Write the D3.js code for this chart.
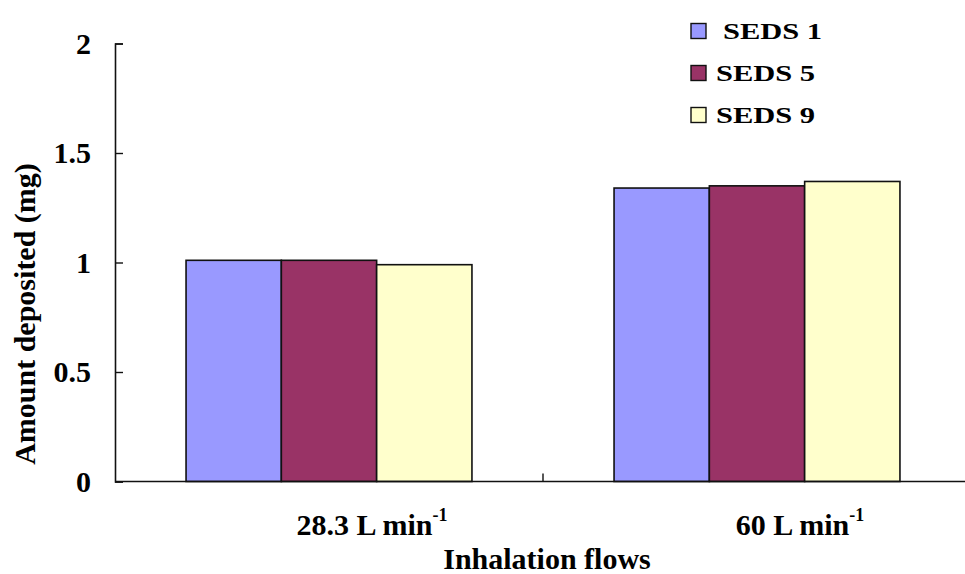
<!DOCTYPE html>
<html>
<head>
<meta charset="utf-8">
<script src="https://cdn.jsdelivr.net/npm/d3@7"></script>
<style>
  html, body { margin: 0; padding: 0; background: #fff; }
  svg { display: block; }
</style>
</head>
<body>
<svg id="chart" width="965" height="574"></svg>
<script>
// Inhalation flow groups and the three SEDS formulations
const flows = ["28.3", "60"];
const seriesNames = ["SEDS 1", "SEDS 5", "SEDS 9"];
const seriesColors = ["#9999FF", "#993366", "#FFFFCC"];
// Amount deposited (mg), one array per series, ordered like `flows`
const seds1 = [1.01, 1.34];
const seds5 = [1.01, 1.35];
const seds9 = [0.99, 1.37];
const yTicks = [0, 0.5, 1, 1.5, 2];

const seriesValues = [seds1, seds5, seds9];
const FONT = "'Liberation Serif', Tinos, 'Times New Roman', Times, 'Nimbus Roman', 'Nimbus Roman No9 L', FreeSerif, 'DejaVu Serif', 'Noto Serif', serif";

(function draw() {
  const svg = d3.select("#chart");
  const plotLeft = 115, plotRight = 971, plotTop = 43.5, plotBottom = 481.5;

  const x = d3.scaleBand()
    .domain(flows)
    .range([plotLeft, plotRight])
    .paddingInner(0.332)
    .paddingOuter(0.166);

  const xs = d3.scaleBand()
    .domain(seriesNames)
    .range([0, x.bandwidth()]);

  const y = d3.scaleLinear().domain([0, 2]).range([plotBottom, plotTop]);

  // Bars
  const groups = svg.append("g").selectAll("g")
    .data(flows)
    .join("g")
    .attr("transform", d => `translate(${x(d)},0)`);

  groups.selectAll("rect")
    .data((f, i) => seriesNames.map((s, k) => ({ s, k, v: seriesValues[k][i] })))
    .join("rect")
    .attr("x", d => xs(d.s))
    .attr("width", xs.bandwidth())
    .attr("y", d => y(d.v))
    .attr("height", d => y(0) - y(d.v))
    .attr("fill", d => seriesColors[d.k])
    .attr("stroke", "#111")
    .attr("stroke-width", 1.6);

  // Y axis with inward ticks
  const yAxis = svg.append("g")
    .attr("transform", `translate(${plotLeft},0)`)
    .call(d3.axisLeft(y).tickValues(yTicks).tickFormat(d3.format("")).tickSize(-8).tickPadding(24));
  yAxis.style("font-family", FONT).style("font-size", "30px").style("font-weight", "bold");
  yAxis.select(".domain").attr("stroke", "#111").attr("stroke-width", 1.6);
  yAxis.selectAll(".tick line").attr("stroke", "#111").attr("stroke-width", 1.4);
  yAxis.selectAll(".tick text").attr("fill", "#000");

  // X axis line with inward ticks at category boundaries
  svg.append("line")
    .attr("x1", plotLeft).attr("x2", plotRight)
    .attr("y1", y(0)).attr("y2", y(0))
    .attr("stroke", "#111").attr("stroke-width", 1.6);
  svg.append("g").selectAll("line")
    .data(flows.slice(1))
    .join("line")
    .attr("x1", d => x(d) - x.step() * x.paddingInner() / 2)
    .attr("x2", d => x(d) - x.step() * x.paddingInner() / 2)
    .attr("y1", y(0)).attr("y2", y(0) - 8)
    .attr("stroke", "#111").attr("stroke-width", 1.4);

  const textRoot = svg.append("g")
    .style("font-family", FONT)
    .style("font-weight", "bold")
    .attr("fill", "#000");

  // Category labels, "L min-1" with superscript
  const xl = textRoot.append("g").selectAll("text")
    .data(flows)
    .join("text")
    .attr("x", d => x(d) + x.bandwidth() / 2 + 43)
    .attr("y", 535)
    .attr("text-anchor", "middle")
    .style("font-size", "30px");
  xl.append("tspan").text(d => `${d} L min`);
  xl.append("tspan")
    .text("-1")
    .attr("dy", -14)
    .style("font-size", "18px");

  // Axis titles
  textRoot.append("text")
    .attr("x", 547).attr("y", 569)
    .attr("text-anchor", "middle")
    .style("font-size", "30px")
    .text("Inhalation flows");

  textRoot.append("text")
    .attr("transform", "translate(35,314) rotate(-90)")
    .attr("text-anchor", "middle")
    .style("font-size", "30px")
    .text("Amount deposited (mg)");

  // Legend
  const legend = textRoot.append("g").attr("transform", "translate(691,31)");
  const items = legend.selectAll("g")
    .data(seriesNames)
    .join("g")
    .attr("transform", (d, i) => `translate(0,${i * 42})`);
  items.append("rect")
    .attr("x", 0).attr("y", -7.5)
    .attr("width", 15).attr("height", 15)
    .attr("fill", (d, i) => seriesColors[i])
    .attr("stroke", "#111")
    .attr("stroke-width", 1.4);
  items.append("text")
    .attr("transform", (d, i) => `translate(${i === 0 ? 32 : 25},8) scale(1.27,1)`)
    .style("font-size", "24px")
    .text(d => d);
})();
</script>
</body>
</html>
